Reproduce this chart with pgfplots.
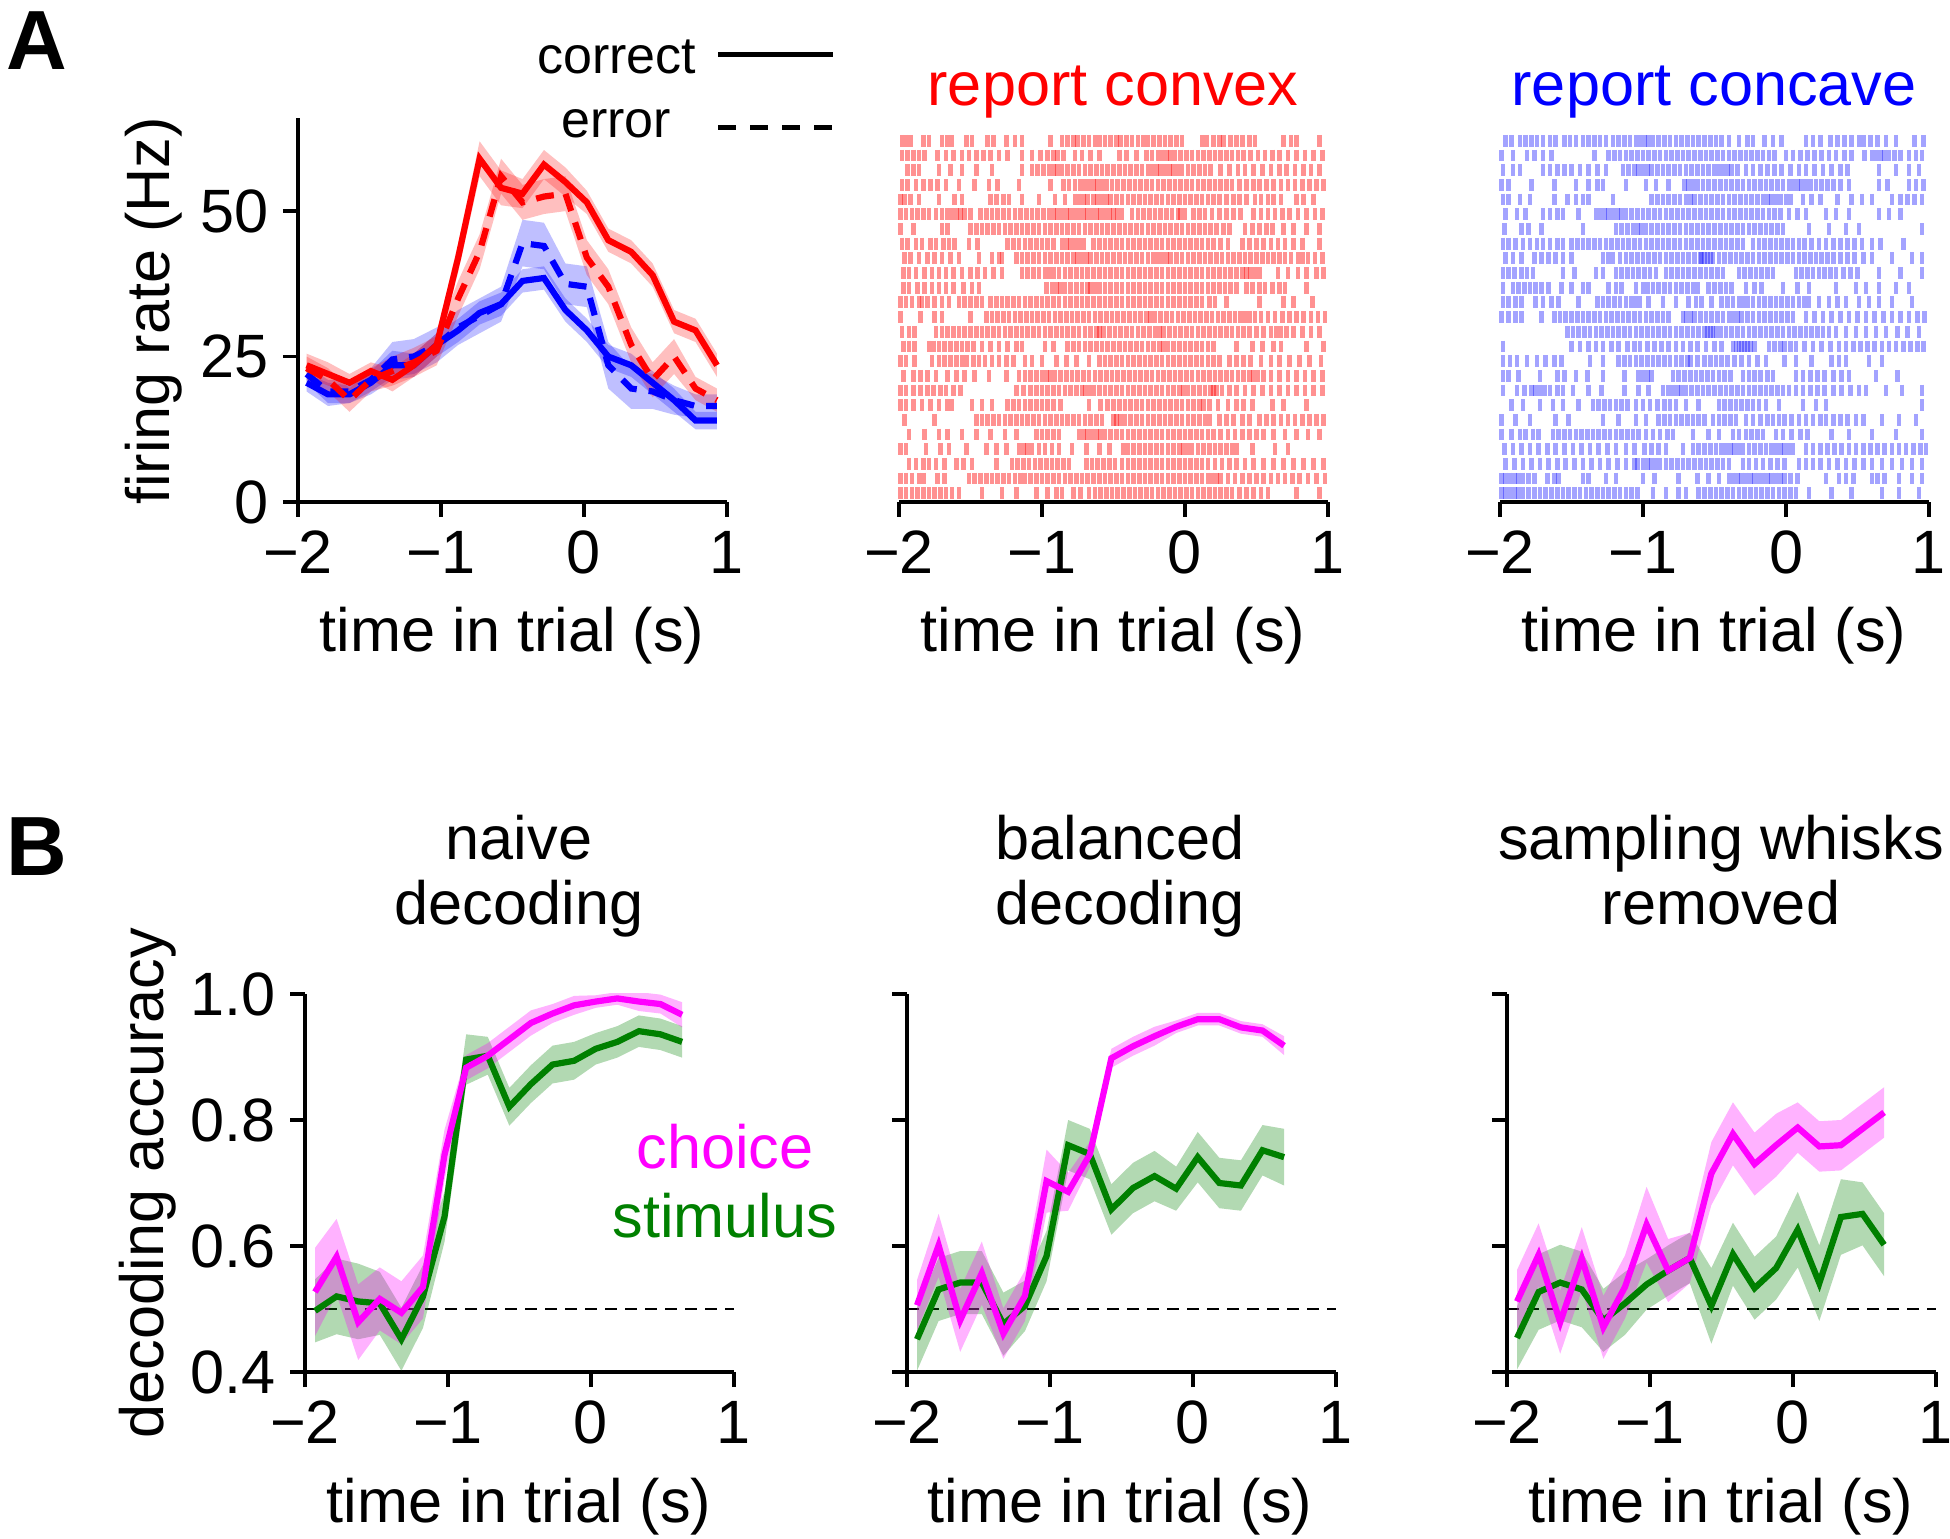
\documentclass[border=0pt]{standalone}
\usepackage{fontspec}
\setmainfont{Liberation Sans}
\usepackage{pgfplots}
\pgfplotsset{compat=1.18}
\usepackage{pgfplotstable}

\definecolor{cred}{RGB}{255,0,0}
\definecolor{cblue}{RGB}{0,0,255}
\definecolor{cmag}{RGB}{255,0,255}
\definecolor{cgreen}{RGB}{0,128,0}
\newcommand{\fs}{\fontsize{15.3pt}{16.5pt}\selectfont}

\pgfplotstableread{
x rc re bc be
-1.94 23.5 23 20.5 22
-1.79 22 21 18.5 19
-1.64 20.5 17.5 18.5 19
-1.49 22.5 21 20.5 21
-1.34 21 22.5 23.5 24.5
-1.19 23.5 24 23.5 25
-1.03 27 26 27 27
-0.88 42 35 29.5 30
-0.73 59 43 32.5 32
-0.58 54 56 34 34
-0.43 53 51.5 38 44.5
-0.28 58 52.5 38.5 44
-0.13 55 53 33 37.5
0.02 51.5 42 29.5 37
0.17 45 37 25 23.5
0.33 43 27 23.5 19.5
0.48 39 21 20.5 19
0.63 31 25 17.5 17.5
0.78 29.5 19.5 14 16.5
0.93 23.5 17.5 14 16.5
}\tA

\pgfplotstableread{
x ch st
-1.93 0.527 0.497
-1.779 0.583 0.52
-1.628 0.479 0.512
-1.477 0.516 0.509
-1.326 0.494 0.452
-1.175 0.535 0.52
-1.024 0.745 0.647
-0.873 0.883 0.896
-0.722 0.902 0.902
-0.571 0.928 0.821
-0.42 0.954 0.857
-0.269 0.969 0.888
-0.118 0.982 0.894
0.033 0.988 0.913
0.184 0.993 0.924
0.335 0.988 0.941
0.486 0.984 0.936
0.637 0.967 0.924
}\tBa

\pgfplotstableread{
x ch st
-1.93 0.506 0.452
-1.779 0.601 0.531
-1.628 0.482 0.542
-1.477 0.557 0.542
-1.326 0.461 0.476
-1.175 0.521 0.505
-1.024 0.703 0.584
-0.873 0.686 0.76
-0.722 0.745 0.746
-0.571 0.898 0.658
-0.42 0.917 0.692
-0.269 0.933 0.711
-0.118 0.948 0.691
0.033 0.96 0.741
0.184 0.96 0.70
0.335 0.947 0.696
0.486 0.942 0.752
0.637 0.918 0.741
}\tBb

\pgfplotstableread{
x ch st
-1.93 0.512 0.454
-1.779 0.586 0.527
-1.628 0.479 0.542
-1.477 0.580 0.531
-1.326 0.471 0.482
-1.175 0.535 0.509
-1.024 0.634 0.539
-0.873 0.561 0.561
-0.722 0.581 0.581
-0.571 0.715 0.505
-0.42 0.778 0.587
-0.269 0.730 0.533
-0.118 0.760 0.565
0.033 0.788 0.626
0.184 0.758 0.541
0.335 0.760 0.646
0.486 0.786 0.651
0.637 0.812 0.602
}\tBc

\pgfplotsset{
  base/.style={scale only axis, width=107.25pt, xmin=-2, xmax=1,
    xtick={-2,-1,0,1}, xticklabels={−2,−1,0,1},
    tick align=outside, major tick length=3.75pt,
    every tick/.style={black, line width=0.8pt},
    axis line style={line width=0.8pt},
    ticklabel style={font=\fs}, anchor=south west},
  dec/.style={base, height=94.5pt, ymin=0.4, ymax=1.0, ytick={0.4,0.6,0.8,1.0},
    axis x line*=bottom, axis y line*=left},
  ras/.style={base, height=91.75pt, ymin=0.4, ymax=25.4, ytick=\empty,
    axis x line*=bottom, axis y line=none, clip=false},
  spkR/.style={only marks, mark=|, mark size=1.47pt, color=cred,
    mark options={line width=1.15pt, opacity=0.43}},
  spkB/.style={only marks, mark=|, mark size=1.47pt, color=cblue,
    mark options={line width=1.15pt, opacity=0.36}},
  ln/.style={line width=1.55pt},
  dsh/.style={line width=1.55pt, dash pattern=on 4.5pt off 3pt},
  bandR/.style={fill=cred, fill opacity=0.25, draw=none},
  bandB/.style={fill=cblue, fill opacity=0.25, draw=none},
  bandM/.style={fill=cmag, fill opacity=0.3, draw=none},
  bandG/.style={fill=cgreen, fill opacity=0.3, draw=none},
  zline/.style={black, line width=0.5pt, dash pattern=on 3pt off 2pt},
}

\begin{document}
\begin{tikzpicture}
\useasboundingbox (0pt,0pt) rectangle (487.5pt,-384.75pt);

% ---------------- A1 firing rate
\begin{axis}[base, at={(74.5pt,-125.5pt)}, height=96pt, ymin=0, ymax=66,
  ytick={0,25,50}, yticklabels={0,25,50}, axis x line*=bottom, axis y line*=left]
\addplot[bandB] coordinates {(-1.94,22)(-1.79,20.5)(-1.64,20)(-1.49,22.5)(-1.34,26)(-1.19,25.5)(-1.03,29)(-0.88,31.5)(-0.73,34.5)(-0.58,36)(-0.43,40)(-0.28,40.5)(-0.13,35)(0.02,31.5)(0.17,27)(0.33,25.5)(0.48,22.5)(0.63,19.5)(0.78,15.5)(0.93,15.5)
 (0.93,12.5)(0.78,12.5)(0.63,15.5)(0.48,18.5)(0.33,21.5)(0.17,23)(0.02,27.5)(-0.13,31)(-0.28,36.5)(-0.43,36)(-0.58,32)(-0.73,30.5)(-0.88,27.5)(-1.03,25)(-1.19,21.5)(-1.34,21)(-1.49,18.5)(-1.64,17)(-1.79,16.5)(-1.94,19)} -- cycle;
\addplot[bandB] coordinates {(-1.94,23.5)(-1.79,21)(-1.64,21)(-1.49,23)(-1.34,27.5)(-1.19,28)(-1.03,30)(-0.88,33)(-0.73,35)(-0.58,37)(-0.43,48.5)(-0.28,48)(-0.13,41)(0.02,40.5)(0.17,27.5)(0.33,23)(0.48,22)(0.63,20)(0.78,18.5)(0.93,18.5)
 (0.93,14.5)(0.78,14.5)(0.63,15)(0.48,16)(0.33,16)(0.17,19.5)(0.02,33.5)(-0.13,34)(-0.28,40)(-0.43,40.5)(-0.58,31)(-0.73,29)(-0.88,27)(-1.03,24)(-1.19,22)(-1.34,21.5)(-1.49,19)(-1.64,17)(-1.79,17)(-1.94,20.5)} -- cycle;
\addplot[bandR] coordinates {(-1.94,25.5)(-1.79,24)(-1.64,22)(-1.49,24)(-1.34,23)(-1.19,25.5)(-1.03,29)(-0.88,44.5)(-0.73,62)(-0.58,57)(-0.43,55.5)(-0.28,60.5)(-0.13,57.5)(0.02,53.5)(0.17,47)(0.33,45)(0.48,41)(0.63,33)(0.78,31.5)(0.93,25.5)
 (0.93,21.5)(0.78,27.5)(0.63,29)(0.48,37)(0.33,41)(0.17,43)(0.02,49.5)(-0.13,52.5)(-0.28,55.5)(-0.43,50.5)(-0.58,51)(-0.73,56)(-0.88,39.5)(-1.03,25)(-1.19,21.5)(-1.34,19)(-1.49,21)(-1.64,19)(-1.79,20)(-1.94,21.5)} -- cycle;
\addplot[bandR] coordinates {(-1.94,25)(-1.79,23)(-1.64,19.5)(-1.49,23)(-1.34,25)(-1.19,26.5)(-1.03,28.5)(-0.88,38)(-0.73,46)(-0.58,59)(-0.43,54.5)(-0.28,55.5)(-0.13,56)(0.02,45)(0.17,40)(0.33,30)(0.48,24)(0.63,28)(0.78,21.5)(0.93,19.5)
 (0.93,15.5)(0.78,17.5)(0.63,22)(0.48,18)(0.33,24)(0.17,34)(0.02,39)(-0.13,50)(-0.28,49.5)(-0.43,48.5)(-0.58,53)(-0.73,40)(-0.88,32)(-1.03,23.5)(-1.19,21.5)(-1.34,20)(-1.49,19)(-1.64,15.5)(-1.79,19)(-1.94,21)} -- cycle;
\addplot[cblue, ln] table[x=x, y=bc]{\tA};
\addplot[cblue, dsh] table[x=x, y=be]{\tA};
\addplot[cred, ln] table[x=x, y=rc]{\tA};
\addplot[cred, dsh] table[x=x, y=re]{\tA};
\end{axis}

% ---------------- A2 raster convex
\begin{axis}[ras, at={(224.75pt,-125.5pt)}]
\addplot[spkR] table[x=t,y expr=25,row sep=\\]{t\\-1.98\\-1.95\\-1.92\\-1.83\\-1.79\\-1.7\\-1.66\\-1.63\\-1.53\\-1.49\\-1.38\\-1.34\\-1.25\\-1.19\\-1.14\\-0.94\\-0.86\\-0.82\\-0.78\\-0.75\\-0.71\\-0.67\\-0.63\\-0.6\\-0.56\\-0.52\\-0.48\\-0.45\\-0.41\\-0.37\\-0.33\\-0.29\\-0.26\\-0.22\\-0.18\\-0.14\\-0.1\\-0.06\\-0.02\\0.12\\0.15\\0.2\\0.24\\0.27\\0.32\\0.36\\0.4\\0.45\\0.49\\0.69\\0.74\\0.78\\0.94\\};
\addplot[spkR] table[x=t,y expr=24,row sep=\\]{t\\-1.98\\-1.94\\-1.9\\-1.86\\-1.82\\-1.73\\-1.67\\-1.62\\-1.56\\-1.51\\-1.46\\-1.41\\-1.36\\-1.3\\-1.24\\-1.14\\-1.07\\-1.01\\-0.96\\-0.92\\-0.89\\-0.85\\-0.77\\-0.72\\-0.66\\-0.6\\-0.46\\-0.41\\-0.34\\-0.27\\-0.23\\-0.19\\-0.16\\-0.13\\-0.1\\-0.07\\-0.03\\0.01\\0.05\\0.09\\0.13\\0.17\\0.21\\0.25\\0.29\\0.33\\0.37\\0.41\\0.46\\0.51\\0.56\\0.61\\0.66\\0.72\\0.78\\0.84\\0.9\\0.96\\};
\addplot[spkR] table[x=t,y expr=23,row sep=\\]{t\\-1.94\\-1.9\\-1.86\\-1.72\\-1.64\\-1.56\\-1.46\\-1.35\\-1.14\\-1.07\\-1.03\\-0.99\\-0.95\\-0.92\\-0.89\\-0.86\\-0.82\\-0.78\\-0.74\\-0.7\\-0.66\\-0.62\\-0.58\\-0.54\\-0.5\\-0.46\\-0.42\\-0.38\\-0.34\\-0.3\\-0.26\\-0.23\\-0.2\\-0.17\\-0.14\\-0.11\\-0.08\\-0.05\\-0.02\\0.02\\0.06\\0.1\\0.14\\0.18\\0.25\\0.31\\0.37\\0.42\\0.48\\0.54\\0.6\\0.66\\0.71\\0.77\\0.83\\0.88\\0.94\\};
\addplot[spkR] table[x=t,y expr=22,row sep=\\]{t\\-1.98\\-1.94\\-1.88\\-1.83\\-1.78\\-1.73\\-1.67\\-1.58\\-1.47\\-1.37\\-1.31\\-1.16\\-0.94\\-0.85\\-0.81\\-0.77\\-0.73\\-0.7\\-0.67\\-0.64\\-0.61\\-0.58\\-0.55\\-0.51\\-0.47\\-0.43\\-0.39\\-0.35\\-0.31\\-0.27\\-0.23\\-0.19\\-0.15\\-0.11\\-0.07\\-0.03\\0.01\\0.05\\0.09\\0.13\\0.17\\0.21\\0.25\\0.29\\0.33\\0.38\\0.43\\0.48\\0.52\\0.57\\0.62\\0.67\\0.72\\0.77\\0.82\\0.87\\0.92\\0.97\\};
\addplot[spkR] table[x=t,y expr=21,row sep=\\]{t\\-1.99\\-1.96\\-1.92\\-1.86\\-1.72\\-1.61\\-1.56\\-1.36\\-1.32\\-1.27\\-1.23\\-1.14\\-1.02\\-0.91\\-0.84\\-0.77\\-0.74\\-0.71\\-0.68\\-0.64\\-0.61\\-0.58\\-0.55\\-0.52\\-0.48\\-0.44\\-0.4\\-0.36\\-0.32\\-0.28\\-0.24\\-0.2\\-0.16\\-0.12\\-0.08\\-0.04\\0.0\\0.04\\0.08\\0.12\\0.16\\0.2\\0.24\\0.29\\0.34\\0.38\\0.43\\0.49\\0.53\\0.58\\0.62\\0.67\\0.78\\0.83\\0.9\\};
\addplot[spkR] table[x=t,y expr=20,row sep=\\]{t\\-1.99\\-1.95\\-1.91\\-1.87\\-1.83\\-1.79\\-1.74\\-1.7\\-1.66\\-1.63\\-1.6\\-1.57\\-1.54\\-1.5\\-1.43\\-1.39\\-1.35\\-1.31\\-1.27\\-1.23\\-1.19\\-1.15\\-1.11\\-1.07\\-1.03\\-0.99\\-0.95\\-0.92\\-0.89\\-0.86\\-0.83\\-0.8\\-0.77\\-0.74\\-0.71\\-0.68\\-0.65\\-0.62\\-0.59\\-0.56\\-0.53\\-0.5\\-0.47\\-0.44\\-0.37\\-0.33\\-0.29\\-0.25\\-0.21\\-0.17\\-0.13\\-0.09\\-0.05\\-0.03\\0.0\\0.06\\0.1\\0.14\\0.19\\0.24\\0.29\\0.34\\0.39\\0.48\\0.53\\0.58\\0.63\\0.68\\0.73\\0.79\\0.85\\0.91\\0.96\\};
\addplot[spkR] table[x=t,y expr=19,row sep=\\]{t\\-1.99\\-1.9\\-1.7\\-1.66\\-1.5\\-1.46\\-1.42\\-1.38\\-1.34\\-1.3\\-1.26\\-1.22\\-1.18\\-1.14\\-1.1\\-1.06\\-1.02\\-0.98\\-0.94\\-0.9\\-0.86\\-0.82\\-0.78\\-0.74\\-0.7\\-0.66\\-0.62\\-0.58\\-0.54\\-0.5\\-0.46\\-0.42\\-0.38\\-0.34\\-0.3\\-0.26\\-0.22\\-0.18\\-0.14\\-0.1\\-0.06\\-0.02\\0.02\\0.06\\0.1\\0.14\\0.18\\0.22\\0.27\\0.31\\0.42\\0.47\\0.52\\0.57\\0.61\\0.69\\0.76\\0.85\\0.94\\};
\addplot[spkR] table[x=t,y expr=18,row sep=\\]{t\\-1.98\\-1.94\\-1.88\\-1.84\\-1.78\\-1.74\\-1.69\\-1.65\\-1.61\\-1.51\\-1.45\\-1.24\\-1.2\\-1.16\\-1.12\\-1.08\\-1.04\\-1.0\\-0.96\\-0.92\\-0.86\\-0.83\\-0.8\\-0.77\\-0.74\\-0.71\\-0.64\\-0.6\\-0.56\\-0.52\\-0.48\\-0.44\\-0.4\\-0.36\\-0.32\\-0.28\\-0.24\\-0.2\\-0.16\\-0.12\\-0.08\\-0.04\\0.0\\0.04\\0.08\\0.12\\0.16\\0.2\\0.25\\0.3\\0.4\\0.45\\0.5\\0.55\\0.6\\0.65\\0.7\\0.76\\0.82\\0.94\\};
\addplot[spkR] table[x=t,y expr=17,row sep=\\]{t\\-1.96\\-1.92\\-1.86\\-1.8\\-1.75\\-1.7\\-1.64\\-1.58\\-1.44\\-1.35\\-1.3\\-1.28\\-1.18\\-1.14\\-1.1\\-1.06\\-1.02\\-0.98\\-0.94\\-0.9\\-0.86\\-0.82\\-0.78\\-0.75\\-0.72\\-0.69\\-0.66\\-0.62\\-0.58\\-0.54\\-0.5\\-0.46\\-0.42\\-0.38\\-0.34\\-0.3\\-0.26\\-0.22\\-0.19\\-0.16\\-0.13\\-0.1\\-0.06\\-0.02\\0.02\\0.06\\0.1\\0.14\\0.18\\0.22\\0.26\\0.3\\0.34\\0.38\\0.42\\0.46\\0.5\\0.54\\0.58\\0.62\\0.66\\0.7\\0.74\\0.79\\0.82\\0.86\\0.91\\0.96\\};
\addplot[spkR] table[x=t,y expr=16,row sep=\\]{t\\-1.97\\-1.93\\-1.88\\-1.82\\-1.77\\-1.72\\-1.67\\-1.62\\-1.56\\-1.5\\-1.45\\-1.4\\-1.34\\-1.28\\-1.14\\-1.1\\-1.06\\-1.02\\-0.98\\-0.95\\-0.92\\-0.88\\-0.84\\-0.8\\-0.76\\-0.72\\-0.68\\-0.64\\-0.6\\-0.56\\-0.52\\-0.48\\-0.44\\-0.4\\-0.36\\-0.32\\-0.28\\-0.24\\-0.2\\-0.16\\-0.12\\-0.08\\-0.04\\0.0\\0.04\\0.08\\0.12\\0.16\\0.2\\0.24\\0.28\\0.32\\0.36\\0.4\\0.43\\0.46\\0.49\\0.52\\0.65\\0.72\\0.79\\0.85\\0.92\\0.97\\};
\addplot[spkR] table[x=t,y expr=15,row sep=\\]{t\\-1.97\\-1.93\\-1.87\\-1.82\\-1.77\\-1.72\\-1.67\\-1.62\\-1.55\\-1.49\\-1.44\\-0.97\\-0.93\\-0.9\\-0.87\\-0.84\\-0.8\\-0.76\\-0.72\\-0.68\\-0.66\\-0.63\\-0.6\\-0.56\\-0.52\\-0.48\\-0.44\\-0.4\\-0.36\\-0.32\\-0.28\\-0.24\\-0.2\\-0.16\\-0.12\\-0.08\\-0.04\\0.0\\0.04\\0.08\\0.12\\0.16\\0.2\\0.24\\0.28\\0.32\\0.36\\0.43\\0.47\\0.52\\0.56\\0.61\\0.66\\0.7\\0.85\\};
\addplot[spkR] table[x=t,y expr=14,row sep=\\]{t\\-1.99\\-1.95\\-1.91\\-1.86\\-1.84\\-1.8\\-1.75\\-1.7\\-1.65\\-1.58\\-1.54\\-1.5\\-1.46\\-1.42\\-1.36\\-1.32\\-1.28\\-1.24\\-1.2\\-1.16\\-1.12\\-1.08\\-1.04\\-1.0\\-0.96\\-0.92\\-0.88\\-0.84\\-0.8\\-0.76\\-0.72\\-0.68\\-0.64\\-0.6\\-0.56\\-0.52\\-0.48\\-0.44\\-0.4\\-0.36\\-0.32\\-0.28\\-0.24\\-0.2\\-0.16\\-0.12\\-0.08\\-0.04\\0.0\\0.04\\0.08\\0.12\\0.17\\0.21\\0.29\\0.52\\0.69\\0.76\\0.89\\};
\addplot[spkR] table[x=t,y expr=13,row sep=\\]{t\\-1.99\\-1.85\\-1.75\\-1.7\\-1.5\\-1.39\\-1.35\\-1.31\\-1.27\\-1.23\\-1.19\\-1.15\\-1.11\\-1.07\\-1.03\\-0.99\\-0.95\\-0.91\\-0.87\\-0.83\\-0.79\\-0.75\\-0.71\\-0.67\\-0.63\\-0.59\\-0.55\\-0.51\\-0.47\\-0.43\\-0.39\\-0.35\\-0.31\\-0.27\\-0.24\\-0.21\\-0.17\\-0.13\\-0.09\\-0.05\\-0.01\\0.03\\0.07\\0.11\\0.15\\0.19\\0.23\\0.27\\0.31\\0.35\\0.39\\0.42\\0.45\\0.49\\0.53\\0.58\\0.63\\0.68\\0.73\\0.78\\0.83\\0.88\\0.93\\0.98\\};
\addplot[spkR] table[x=t,y expr=12,row sep=\\]{t\\-1.98\\-1.93\\-1.89\\-1.74\\-1.7\\-1.66\\-1.62\\-1.58\\-1.54\\-1.5\\-1.46\\-1.42\\-1.38\\-1.34\\-1.3\\-1.26\\-1.22\\-1.18\\-1.14\\-1.1\\-1.06\\-1.02\\-0.98\\-0.94\\-0.9\\-0.86\\-0.82\\-0.78\\-0.74\\-0.7\\-0.66\\-0.62\\-0.6\\-0.57\\-0.53\\-0.49\\-0.45\\-0.41\\-0.37\\-0.33\\-0.29\\-0.25\\-0.21\\-0.18\\-0.15\\-0.11\\-0.07\\-0.03\\0.01\\0.05\\0.09\\0.13\\0.17\\0.21\\0.25\\0.29\\0.33\\0.37\\0.41\\0.45\\0.5\\0.55\\0.6\\0.64\\0.67\\0.71\\0.76\\0.82\\0.88\\0.94\\};
\addplot[spkR] table[x=t,y expr=11,row sep=\\]{t\\-1.97\\-1.93\\-1.89\\-1.79\\-1.76\\-1.72\\-1.68\\-1.64\\-1.6\\-1.56\\-1.52\\-1.48\\-1.42\\-1.36\\-1.3\\-1.24\\-1.18\\-1.14\\-0.98\\-0.92\\-0.82\\-0.78\\-0.74\\-0.7\\-0.66\\-0.62\\-0.58\\-0.54\\-0.5\\-0.46\\-0.42\\-0.38\\-0.34\\-0.3\\-0.26\\-0.22\\-0.18\\-0.15\\-0.12\\-0.08\\-0.04\\0.0\\0.04\\0.08\\0.12\\0.16\\0.2\\0.36\\0.47\\0.54\\0.62\\0.67\\0.85\\0.97\\};
\addplot[spkR] table[x=t,y expr=10,row sep=\\]{t\\-1.99\\-1.95\\-1.89\\-1.77\\-1.72\\-1.68\\-1.64\\-1.6\\-1.56\\-1.53\\-1.48\\-1.44\\-1.4\\-1.35\\-1.3\\-1.25\\-1.2\\-1.12\\-1.07\\-1.0\\-0.9\\-0.83\\-0.76\\-0.67\\-0.6\\-0.56\\-0.52\\-0.48\\-0.44\\-0.4\\-0.36\\-0.32\\-0.28\\-0.24\\-0.2\\-0.16\\-0.12\\-0.08\\-0.04\\0.0\\0.04\\0.08\\0.12\\0.16\\0.2\\0.24\\0.31\\0.36\\0.41\\0.46\\0.53\\0.6\\0.66\\0.73\\0.8\\0.87\\0.95\\};
\addplot[spkR] table[x=t,y expr=9,row sep=\\]{t\\-1.97\\-1.9\\-1.85\\-1.8\\-1.74\\-1.66\\-1.6\\-1.54\\-1.47\\-1.37\\-1.25\\-1.16\\-1.12\\-1.08\\-1.04\\-1.0\\-0.97\\-0.94\\-0.91\\-0.87\\-0.83\\-0.79\\-0.75\\-0.71\\-0.67\\-0.63\\-0.59\\-0.55\\-0.51\\-0.47\\-0.43\\-0.39\\-0.35\\-0.31\\-0.27\\-0.23\\-0.19\\-0.15\\-0.11\\-0.07\\-0.03\\0.01\\0.05\\0.09\\0.13\\0.17\\0.21\\0.25\\0.29\\0.33\\0.37\\0.41\\0.45\\0.48\\0.51\\0.55\\0.6\\0.66\\0.72\\0.78\\0.84\\0.9\\0.96\\};
\addplot[spkR] table[x=t,y expr=8,row sep=\\]{t\\-1.99\\-1.95\\-1.9\\-1.85\\-1.8\\-1.76\\-1.71\\-1.67\\-1.62\\-1.57\\-1.18\\-1.13\\-1.08\\-1.04\\-1.0\\-0.96\\-0.92\\-0.88\\-0.84\\-0.8\\-0.76\\-0.72\\-0.7\\-0.67\\-0.64\\-0.6\\-0.56\\-0.52\\-0.48\\-0.44\\-0.4\\-0.36\\-0.32\\-0.28\\-0.24\\-0.2\\-0.16\\-0.12\\-0.08\\-0.04\\-0.01\\0.02\\0.06\\0.1\\0.14\\0.18\\0.2\\0.22\\0.26\\0.31\\0.36\\0.42\\0.48\\0.54\\0.6\\0.66\\0.72\\0.78\\0.84\\0.9\\0.96\\};
\addplot[spkR] table[x=t,y expr=7,row sep=\\]{t\\-1.99\\-1.95\\-1.9\\-1.84\\-1.78\\-1.72\\-1.66\\-1.63\\-1.49\\-1.42\\-1.35\\-1.24\\-1.2\\-1.16\\-1.12\\-1.08\\-1.04\\-1.0\\-0.96\\-0.92\\-0.87\\-0.67\\-0.59\\-0.54\\-0.5\\-0.46\\-0.42\\-0.38\\-0.34\\-0.3\\-0.26\\-0.22\\-0.18\\-0.14\\-0.1\\-0.06\\-0.02\\0.02\\0.06\\0.1\\0.13\\0.17\\0.23\\0.3\\0.36\\0.41\\0.47\\0.61\\0.69\\0.85\\};
\addplot[spkR] table[x=t,y expr=6,row sep=\\]{t\\-1.96\\-1.75\\-1.46\\-1.42\\-1.38\\-1.34\\-1.3\\-1.26\\-1.22\\-1.18\\-1.14\\-1.1\\-1.06\\-1.02\\-0.98\\-0.94\\-0.9\\-0.86\\-0.82\\-0.78\\-0.74\\-0.7\\-0.66\\-0.62\\-0.58\\-0.5\\-0.48\\-0.45\\-0.42\\-0.38\\-0.34\\-0.3\\-0.26\\-0.22\\-0.18\\-0.14\\-0.1\\-0.06\\-0.02\\0.02\\0.06\\0.1\\0.14\\0.17\\0.24\\0.29\\0.34\\0.4\\0.45\\0.52\\0.57\\0.62\\0.67\\0.72\\0.77\\0.82\\0.87\\0.92\\0.97\\};
\addplot[spkR] table[x=t,y expr=5,row sep=\\]{t\\-1.93\\-1.82\\-1.72\\-1.66\\-1.56\\-1.46\\-1.36\\-1.26\\-1.18\\-1.04\\-1.0\\-0.96\\-0.92\\-0.88\\-0.74\\-0.71\\-0.68\\-0.65\\-0.62\\-0.59\\-0.56\\-0.52\\-0.48\\-0.44\\-0.4\\-0.36\\-0.32\\-0.28\\-0.24\\-0.2\\-0.16\\-0.12\\-0.08\\-0.04\\0.0\\0.04\\0.08\\0.12\\0.16\\0.2\\0.25\\0.3\\0.35\\0.4\\0.45\\0.5\\0.55\\0.62\\0.7\\0.78\\0.86\\0.94\\};
\addplot[spkR] table[x=t,y expr=4,row sep=\\]{t\\-1.99\\-1.95\\-1.81\\-1.71\\-1.65\\-1.53\\-1.39\\-1.32\\-1.25\\-1.16\\-1.13\\-1.1\\-1.07\\-1.02\\-0.98\\-0.93\\-0.88\\-0.79\\-0.69\\-0.6\\-0.53\\-0.43\\-0.4\\-0.36\\-0.32\\-0.28\\-0.24\\-0.2\\-0.16\\-0.12\\-0.08\\-0.04\\-0.01\\0.02\\0.05\\0.09\\0.13\\0.17\\0.21\\0.25\\0.29\\0.33\\0.36\\0.47\\0.63\\0.72\\};
\addplot[spkR] table[x=t,y expr=3,row sep=\\]{t\\-1.93\\-1.88\\-1.83\\-1.79\\-1.74\\-1.68\\-1.6\\-1.55\\-1.49\\-1.32\\-1.21\\-1.17\\-1.13\\-1.09\\-1.05\\-1.01\\-0.97\\-0.93\\-0.89\\-0.85\\-0.81\\-0.69\\-0.65\\-0.61\\-0.57\\-0.53\\-0.49\\-0.44\\-0.4\\-0.36\\-0.32\\-0.28\\-0.24\\-0.2\\-0.16\\-0.12\\-0.08\\-0.04\\0.0\\0.04\\0.08\\0.12\\0.16\\0.21\\0.26\\0.31\\0.36\\0.42\\0.48\\0.55\\0.62\\0.69\\0.76\\0.83\\0.9\\0.97\\};
\addplot[spkR] table[x=t,y expr=2,row sep=\\]{t\\-1.99\\-1.95\\-1.91\\-1.86\\-1.83\\-1.73\\-1.68\\-1.51\\-1.47\\-1.43\\-1.39\\-1.35\\-1.31\\-1.27\\-1.23\\-1.19\\-1.15\\-1.12\\-1.08\\-1.04\\-1.0\\-0.96\\-0.92\\-0.88\\-0.84\\-0.8\\-0.76\\-0.72\\-0.68\\-0.64\\-0.6\\-0.56\\-0.52\\-0.48\\-0.44\\-0.4\\-0.36\\-0.32\\-0.28\\-0.24\\-0.2\\-0.16\\-0.12\\-0.08\\-0.04\\0.0\\0.04\\0.08\\0.12\\0.16\\0.19\\0.22\\0.25\\0.3\\0.35\\0.4\\0.45\\0.5\\0.55\\0.6\\0.65\\0.7\\0.75\\0.8\\0.86\\0.92\\0.98\\};
\addplot[spkR] table[x=t,y expr=1,row sep=\\]{t\\-1.99\\-1.95\\-1.91\\-1.87\\-1.83\\-1.79\\-1.75\\-1.71\\-1.67\\-1.63\\-1.58\\-1.42\\-1.28\\-1.18\\-1.04\\-0.96\\-0.9\\-0.86\\-0.78\\-0.73\\-0.67\\-0.63\\-0.59\\-0.55\\-0.51\\-0.47\\-0.43\\-0.39\\-0.35\\-0.31\\-0.27\\-0.23\\-0.19\\-0.15\\-0.11\\-0.07\\-0.03\\0.01\\0.05\\0.09\\0.13\\0.17\\0.21\\0.25\\0.29\\0.33\\0.38\\0.43\\0.48\\0.53\\0.58\\0.78\\0.94\\};
\end{axis}

% ---------------- A3 raster concave
\begin{axis}[ras, at={(375pt,-125.5pt)}]
\addplot[spkB] table[x=t,y expr=25,row sep=\\]{t\\-1.96\\-1.92\\-1.86\\-1.82\\-1.78\\-1.74\\-1.7\\-1.65\\-1.61\\-1.55\\-1.51\\-1.47\\-1.42\\-1.38\\-1.34\\-1.3\\-1.26\\-1.21\\-1.17\\-1.13\\-1.09\\-1.05\\-1.02\\-0.99\\-0.96\\-0.93\\-0.89\\-0.85\\-0.81\\-0.77\\-0.73\\-0.69\\-0.65\\-0.61\\-0.57\\-0.53\\-0.49\\-0.45\\-0.4\\-0.33\\-0.27\\-0.23\\-0.15\\-0.09\\-0.03\\0.14\\0.19\\0.24\\0.31\\0.36\\0.41\\0.46\\0.51\\0.54\\0.59\\0.64\\0.7\\0.77\\0.9\\0.96\\};
\addplot[spkB] table[x=t,y expr=24,row sep=\\]{t\\-1.99\\-1.91\\-1.81\\-1.76\\-1.7\\-1.64\\-1.34\\-1.24\\-1.2\\-1.16\\-1.12\\-1.08\\-1.04\\-1.0\\-0.96\\-0.92\\-0.88\\-0.84\\-0.8\\-0.76\\-0.72\\-0.68\\-0.64\\-0.6\\-0.56\\-0.52\\-0.48\\-0.44\\-0.4\\-0.36\\-0.32\\-0.28\\-0.24\\-0.2\\-0.16\\-0.12\\-0.08\\0.0\\0.05\\0.1\\0.15\\0.2\\0.25\\0.3\\0.35\\0.41\\0.46\\0.55\\0.6\\0.63\\0.66\\0.69\\0.72\\0.76\\0.8\\0.86\\0.91\\0.95\\};
\addplot[spkB] table[x=t,y expr=23,row sep=\\]{t\\-1.98\\-1.91\\-1.86\\-1.7\\-1.65\\-1.6\\-1.55\\-1.5\\-1.44\\-1.38\\-1.32\\-1.26\\-1.14\\-1.1\\-1.06\\-1.03\\-1.0\\-0.97\\-0.94\\-0.9\\-0.86\\-0.82\\-0.78\\-0.74\\-0.7\\-0.66\\-0.62\\-0.58\\-0.54\\-0.5\\-0.47\\-0.44\\-0.41\\-0.38\\-0.34\\-0.28\\-0.23\\-0.18\\-0.13\\-0.08\\-0.03\\0.03\\0.09\\0.14\\0.2\\0.26\\0.32\\0.38\\0.43\\0.65\\0.77\\0.86\\0.93\\};
\addplot[spkB] table[x=t,y expr=22,row sep=\\]{t\\-1.99\\-1.94\\-1.78\\-1.62\\-1.47\\-1.38\\-1.32\\-1.28\\-1.12\\-0.98\\-0.91\\-0.82\\-0.71\\-0.68\\-0.65\\-0.62\\-0.58\\-0.54\\-0.5\\-0.46\\-0.42\\-0.38\\-0.34\\-0.3\\-0.26\\-0.22\\-0.18\\-0.14\\-0.1\\-0.06\\-0.02\\0.02\\0.05\\0.08\\0.11\\0.14\\0.17\\0.21\\0.25\\0.29\\0.33\\0.38\\0.44\\0.65\\0.71\\0.86\\0.91\\0.96\\};
\addplot[spkB] table[x=t,y expr=21,row sep=\\]{t\\-1.98\\-1.94\\-1.86\\-1.79\\-1.62\\-1.53\\-1.47\\-1.42\\-1.38\\-1.21\\-0.94\\-0.9\\-0.86\\-0.82\\-0.78\\-0.74\\-0.7\\-0.67\\-0.64\\-0.6\\-0.56\\-0.52\\-0.48\\-0.44\\-0.4\\-0.36\\-0.32\\-0.28\\-0.24\\-0.2\\-0.16\\-0.13\\-0.1\\-0.07\\-0.04\\0.0\\0.03\\0.12\\0.18\\0.24\\0.36\\0.46\\0.53\\0.6\\0.74\\0.8\\0.85\\0.9\\0.95\\};
\addplot[spkB] table[x=t,y expr=20,row sep=\\]{t\\-1.96\\-1.88\\-1.82\\-1.7\\-1.65\\-1.6\\-1.56\\-1.45\\-1.33\\-1.3\\-1.27\\-1.24\\-1.21\\-1.18\\-1.15\\-1.12\\-1.08\\-1.04\\-1.0\\-0.96\\-0.92\\-0.88\\-0.84\\-0.8\\-0.76\\-0.72\\-0.68\\-0.64\\-0.6\\-0.56\\-0.52\\-0.48\\-0.44\\-0.4\\-0.36\\-0.32\\-0.28\\-0.24\\-0.2\\-0.16\\-0.12\\-0.08\\-0.04\\0.02\\0.08\\0.14\\0.28\\0.35\\0.44\\0.65\\0.72\\0.8\\};
\addplot[spkB] table[x=t,y expr=19,row sep=\\]{t\\-1.97\\-1.85\\-1.8\\-1.71\\-1.42\\-1.19\\-1.15\\-1.11\\-1.07\\-1.04\\-1.01\\-0.98\\-0.94\\-0.9\\-0.86\\-0.82\\-0.78\\-0.74\\-0.7\\-0.66\\-0.62\\-0.58\\-0.54\\-0.5\\-0.46\\-0.42\\-0.38\\-0.34\\-0.3\\-0.26\\-0.22\\-0.18\\-0.14\\-0.1\\-0.06\\-0.02\\0.16\\0.3\\0.42\\0.51\\0.95\\};
\addplot[spkB] table[x=t,y expr=18,row sep=\\]{t\\-1.98\\-1.94\\-1.89\\-1.84\\-1.79\\-1.74\\-1.7\\-1.65\\-1.6\\-1.56\\-1.5\\-1.46\\-1.42\\-1.38\\-1.34\\-1.3\\-1.26\\-1.22\\-1.18\\-1.14\\-1.1\\-1.06\\-1.02\\-0.98\\-0.94\\-0.9\\-0.86\\-0.82\\-0.78\\-0.74\\-0.7\\-0.66\\-0.62\\-0.58\\-0.54\\-0.5\\-0.46\\-0.42\\-0.38\\-0.34\\-0.3\\-0.23\\-0.19\\-0.15\\-0.11\\-0.07\\-0.03\\0.01\\0.05\\0.09\\0.13\\0.18\\0.23\\0.28\\0.33\\0.38\\0.43\\0.48\\0.53\\0.6\\0.66\\0.82\\};
\addplot[spkB] table[x=t,y expr=17,row sep=\\]{t\\-1.96\\-1.91\\-1.85\\-1.76\\-1.71\\-1.66\\-1.61\\-1.56\\-1.5\\-1.28\\-1.24\\-1.21\\-1.16\\-1.12\\-1.08\\-1.04\\-1.0\\-0.96\\-0.92\\-0.88\\-0.84\\-0.8\\-0.76\\-0.72\\-0.68\\-0.64\\-0.6\\-0.59\\-0.57\\-0.55\\-0.53\\-0.51\\-0.47\\-0.43\\-0.39\\-0.35\\-0.31\\-0.27\\-0.23\\-0.19\\-0.15\\-0.11\\-0.07\\-0.03\\0.01\\0.05\\0.09\\0.13\\0.17\\0.21\\0.25\\0.29\\0.33\\0.38\\0.43\\0.48\\0.54\\0.6\\0.74\\0.88\\0.95\\};
\addplot[spkB] table[x=t,y expr=16,row sep=\\]{t\\-1.98\\-1.94\\-1.9\\-1.85\\-1.81\\-1.77\\-1.56\\-1.48\\-1.33\\-1.28\\-1.19\\-1.15\\-1.11\\-1.07\\-1.03\\-0.99\\-0.95\\-0.91\\-0.84\\-0.8\\-0.76\\-0.72\\-0.68\\-0.64\\-0.6\\-0.56\\-0.52\\-0.48\\-0.44\\-0.33\\-0.29\\-0.25\\-0.21\\-0.17\\-0.13\\-0.09\\0.07\\0.11\\0.15\\0.19\\0.23\\0.27\\0.31\\0.35\\0.4\\0.45\\0.5\\0.65\\0.8\\0.95\\};
\addplot[spkB] table[x=t,y expr=15,row sep=\\]{t\\-1.98\\-1.91\\-1.87\\-1.83\\-1.79\\-1.75\\-1.71\\-1.66\\-1.57\\-1.5\\-1.42\\-1.38\\-1.24\\-1.19\\-1.15\\-1.05\\-1.0\\-0.97\\-0.93\\-0.89\\-0.85\\-0.81\\-0.77\\-0.73\\-0.69\\-0.65\\-0.62\\-0.54\\-0.5\\-0.46\\-0.42\\-0.38\\-0.28\\-0.22\\-0.17\\-0.02\\0.08\\0.16\\0.35\\0.49\\0.56\\0.65\\0.77\\0.86\\};
\addplot[spkB] table[x=t,y expr=14,row sep=\\]{t\\-1.98\\-1.94\\-1.89\\-1.85\\-1.75\\-1.7\\-1.64\\-1.59\\-1.45\\-1.32\\-1.28\\-1.24\\-1.2\\-1.16\\-1.12\\-1.08\\-1.05\\-1.02\\-0.96\\-0.86\\-0.77\\-0.68\\-0.63\\-0.59\\-0.52\\-0.45\\-0.41\\-0.37\\-0.33\\-0.3\\-0.27\\-0.23\\-0.19\\-0.15\\-0.11\\-0.07\\-0.03\\0.01\\0.05\\0.09\\0.13\\0.16\\0.23\\0.3\\0.36\\0.42\\0.51\\0.58\\0.65\\0.74\\0.88\\};
\addplot[spkB] table[x=t,y expr=13,row sep=\\]{t\\-1.99\\-1.94\\-1.89\\-1.85\\-1.71\\-1.62\\-1.58\\-1.54\\-1.5\\-1.46\\-1.42\\-1.38\\-1.34\\-1.3\\-1.26\\-1.22\\-1.18\\-1.14\\-1.1\\-1.06\\-1.02\\-0.98\\-0.94\\-0.9\\-0.86\\-0.82\\-0.72\\-0.7\\-0.67\\-0.64\\-0.6\\-0.56\\-0.52\\-0.48\\-0.44\\-0.4\\-0.37\\-0.34\\-0.31\\-0.27\\-0.23\\-0.19\\-0.15\\-0.11\\-0.07\\-0.03\\0.01\\0.05\\0.14\\0.2\\0.26\\0.32\\0.38\\0.44\\0.5\\0.56\\0.62\\0.68\\0.74\\0.8\\0.86\\0.92\\0.97\\};
\addplot[spkB] table[x=t,y expr=12,row sep=\\]{t\\-1.53\\-1.49\\-1.45\\-1.41\\-1.37\\-1.33\\-1.29\\-1.25\\-1.21\\-1.17\\-1.13\\-1.09\\-1.05\\-1.01\\-0.97\\-0.93\\-0.89\\-0.85\\-0.81\\-0.77\\-0.73\\-0.69\\-0.65\\-0.61\\-0.57\\-0.55\\-0.53\\-0.51\\-0.49\\-0.46\\-0.42\\-0.38\\-0.34\\-0.3\\-0.26\\-0.22\\-0.18\\-0.14\\-0.1\\-0.06\\-0.02\\0.02\\0.06\\0.1\\0.14\\0.18\\0.22\\0.26\\0.3\\0.35\\0.42\\0.49\\0.56\\0.63\\0.7\\0.78\\0.85\\0.93\\};
\addplot[spkB] table[x=t,y expr=11,row sep=\\]{t\\-1.98\\-1.5\\-1.44\\-1.38\\-1.33\\-1.28\\-1.22\\-1.17\\-1.11\\-1.06\\-1.02\\-0.97\\-0.92\\-0.87\\-0.82\\-0.77\\-0.72\\-0.67\\-0.62\\-0.56\\-0.5\\-0.45\\-0.37\\-0.35\\-0.33\\-0.31\\-0.29\\-0.27\\-0.25\\-0.22\\-0.12\\-0.08\\-0.04\\-0.01\\0.03\\0.07\\0.13\\0.19\\0.25\\0.31\\0.37\\0.42\\0.47\\0.52\\0.57\\0.62\\0.67\\0.72\\0.77\\0.82\\0.87\\0.92\\0.96\\};
\addplot[spkB] table[x=t,y expr=10,row sep=\\]{t\\-1.98\\-1.93\\-1.88\\-1.81\\-1.74\\-1.68\\-1.62\\-1.57\\-1.37\\-1.28\\-1.17\\-1.13\\-1.09\\-1.05\\-1.01\\-0.97\\-0.93\\-0.89\\-0.85\\-0.81\\-0.77\\-0.73\\-0.69\\-0.67\\-0.62\\-0.57\\-0.53\\-0.49\\-0.45\\-0.41\\-0.36\\-0.31\\-0.26\\-0.2\\-0.14\\-0.01\\0.07\\0.18\\0.32\\0.37\\0.42\\0.58\\0.67\\};
\addplot[spkB] table[x=t,y expr=9,row sep=\\]{t\\-1.98\\-1.94\\-1.87\\-1.72\\-1.6\\-1.55\\-1.47\\-1.39\\-1.28\\-1.13\\-1.03\\-1.0\\-0.97\\-0.94\\-0.79\\-0.75\\-0.71\\-0.67\\-0.63\\-0.59\\-0.55\\-0.51\\-0.47\\-0.43\\-0.39\\-0.3\\-0.26\\-0.22\\-0.18\\-0.13\\-0.09\\0.07\\0.12\\0.17\\0.22\\0.27\\0.33\\0.39\\0.44\\0.63\\0.78\\};
\addplot[spkB] table[x=t,y expr=8,row sep=\\]{t\\-1.98\\-1.88\\-1.83\\-1.78\\-1.75\\-1.72\\-1.69\\-1.65\\-1.6\\-1.56\\-1.49\\-1.38\\-1.29\\-1.13\\-1.03\\-0.96\\-0.86\\-0.82\\-0.79\\-0.76\\-0.73\\-0.7\\-0.66\\-0.62\\-0.58\\-0.54\\-0.5\\-0.46\\-0.42\\-0.38\\-0.34\\-0.3\\-0.26\\-0.22\\-0.18\\-0.14\\-0.1\\-0.06\\-0.02\\0.02\\0.07\\0.12\\0.17\\0.22\\0.27\\0.33\\0.39\\0.45\\0.51\\0.56\\0.7\\0.81\\0.95\\};
\addplot[spkB] table[x=t,y expr=7,row sep=\\]{t\\-1.92\\-1.84\\-1.72\\-1.63\\-1.56\\-1.45\\-1.35\\-1.31\\-1.27\\-1.23\\-1.19\\-1.15\\-1.11\\-1.05\\-1.0\\-0.95\\-0.9\\-0.85\\-0.81\\-0.77\\-0.7\\-0.61\\-0.47\\-0.43\\-0.39\\-0.35\\-0.31\\-0.27\\-0.23\\-0.19\\-0.14\\-0.05\\0.12\\0.21\\0.28\\0.95\\};
\addplot[spkB] table[x=t,y expr=6,row sep=\\]{t\\-1.99\\-1.89\\-1.79\\-1.61\\-1.52\\-1.28\\-1.17\\-1.05\\-0.98\\-0.89\\-0.85\\-0.81\\-0.77\\-0.73\\-0.69\\-0.65\\-0.61\\-0.57\\-0.51\\-0.47\\-0.43\\-0.39\\-0.35\\-0.28\\-0.23\\-0.18\\-0.13\\-0.09\\-0.05\\-0.01\\0.04\\0.09\\0.14\\0.19\\0.24\\0.28\\0.33\\0.38\\0.43\\0.49\\0.54\\0.67\\0.79\\0.91\\};
\addplot[spkB] table[x=t,y expr=5,row sep=\\]{t\\-1.99\\-1.92\\-1.86\\-1.82\\-1.77\\-1.73\\-1.63\\-1.59\\-1.55\\-1.51\\-1.47\\-1.43\\-1.39\\-1.35\\-1.31\\-1.27\\-1.23\\-1.19\\-1.15\\-1.11\\-1.07\\-1.03\\-0.98\\-0.93\\-0.88\\-0.83\\-0.79\\-0.65\\-0.54\\-0.47\\-0.37\\-0.33\\-0.28\\-0.24\\-0.2\\-0.16\\-0.07\\-0.02\\0.04\\0.1\\0.15\\0.32\\0.44\\0.6\\0.77\\0.95\\};
\addplot[spkB] table[x=t,y expr=4,row sep=\\]{t\\-1.97\\-1.91\\-1.85\\-1.79\\-1.73\\-1.67\\-1.61\\-1.55\\-1.49\\-1.43\\-1.37\\-1.31\\-1.25\\-1.19\\-1.12\\-1.06\\-0.99\\-0.94\\-0.89\\-0.84\\-0.72\\-0.65\\-0.61\\-0.57\\-0.53\\-0.49\\-0.45\\-0.42\\-0.39\\-0.36\\-0.33\\-0.3\\-0.26\\-0.22\\-0.18\\-0.14\\-0.1\\-0.07\\-0.04\\-0.01\\0.02\\0.05\\0.14\\0.19\\0.24\\0.29\\0.34\\0.39\\0.44\\0.49\\0.54\\0.59\\0.64\\0.69\\0.74\\0.79\\0.84\\0.89\\0.94\\0.98\\};
\addplot[spkB] table[x=t,y expr=3,row sep=\\]{t\\-1.96\\-1.9\\-1.84\\-1.78\\-1.72\\-1.66\\-1.6\\-1.54\\-1.48\\-1.42\\-1.36\\-1.3\\-1.24\\-1.18\\-1.12\\-1.06\\-1.04\\-1.0\\-0.97\\-0.94\\-0.91\\-0.88\\-0.84\\-0.8\\-0.76\\-0.72\\-0.68\\-0.64\\-0.6\\-0.56\\-0.52\\-0.48\\-0.44\\-0.4\\-0.3\\-0.26\\-0.21\\-0.16\\-0.11\\-0.06\\-0.01\\0.09\\0.14\\0.19\\0.24\\0.3\\0.36\\0.42\\0.48\\0.54\\0.6\\0.67\\0.74\\0.81\\0.88\\0.95\\};
\addplot[spkB] table[x=t,y expr=2,row sep=\\]{t\\-1.99\\-1.96\\-1.93\\-1.9\\-1.87\\-1.84\\-1.8\\-1.76\\-1.67\\-1.62\\-1.59\\-1.42\\-1.38\\-1.26\\-1.19\\-1.0\\-0.92\\-0.75\\-0.62\\-0.54\\-0.47\\-0.4\\-0.37\\-0.34\\-0.31\\-0.28\\-0.25\\-0.22\\-0.19\\-0.16\\-0.13\\-0.1\\-0.07\\-0.04\\-0.01\\0.03\\0.08\\0.28\\0.37\\0.42\\0.47\\0.6\\0.64\\0.69\\0.79\\0.88\\0.95\\};
\addplot[spkB] table[x=t,y expr=1,row sep=\\]{t\\-1.99\\-1.96\\-1.93\\-1.9\\-1.87\\-1.84\\-1.8\\-1.76\\-1.72\\-1.68\\-1.64\\-1.6\\-1.56\\-1.52\\-1.48\\-1.44\\-1.4\\-1.36\\-1.32\\-1.28\\-1.24\\-1.2\\-1.16\\-1.12\\-1.08\\-1.04\\-0.93\\-0.84\\-0.75\\-0.7\\-0.61\\-0.57\\-0.53\\-0.49\\-0.45\\-0.41\\-0.37\\-0.33\\-0.29\\-0.25\\-0.21\\-0.17\\-0.13\\-0.09\\-0.05\\-0.01\\0.03\\0.07\\0.16\\0.32\\0.46\\0.67\\0.79\\0.93\\};
\end{axis}

% ---------------- B1 naive
\begin{axis}[dec, at={(76.25pt,-343pt)}, yticklabels={0.4,0.6,0.8,1.0}]
\addplot[zline] coordinates {(-2,0.5) (1,0.5)};
\addplot[bandG] coordinates {(-1.93,0.547)(-1.779,0.58)(-1.628,0.572)(-1.477,0.559)(-1.326,0.502)(-1.175,0.57)(-1.024,0.687)(-0.873,0.936)(-0.722,0.932)(-0.571,0.851)(-0.42,0.887)(-0.269,0.918)(-0.118,0.924)(0.033,0.938)(0.184,0.949)(0.335,0.966)(0.486,0.961)(0.637,0.949)
 (0.637,0.899)(0.486,0.911)(0.335,0.916)(0.184,0.899)(0.033,0.888)(-0.118,0.864)(-0.269,0.858)(-0.42,0.827)(-0.571,0.791)(-0.722,0.872)(-0.873,0.856)(-1.024,0.607)(-1.175,0.47)(-1.326,0.402)(-1.477,0.459)(-1.628,0.452)(-1.779,0.46)(-1.93,0.447)} -- cycle;
\addplot[bandM] coordinates {(-1.93,0.597)(-1.779,0.643)(-1.628,0.539)(-1.477,0.566)(-1.326,0.544)(-1.175,0.585)(-1.024,0.785)(-0.873,0.903)(-0.722,0.922)(-0.571,0.948)(-0.42,0.974)(-0.269,0.984)(-0.118,0.997)(0.033,0.998)(0.184,1.003)(0.335,1.003)(0.486,0.999)(0.637,0.987)
 (0.637,0.947)(0.486,0.969)(0.335,0.973)(0.184,0.983)(0.033,0.978)(-0.118,0.967)(-0.269,0.954)(-0.42,0.934)(-0.571,0.908)(-0.722,0.882)(-0.873,0.863)(-1.024,0.705)(-1.175,0.485)(-1.326,0.444)(-1.477,0.466)(-1.628,0.419)(-1.779,0.523)(-1.93,0.457)} -- cycle;
\addplot[cgreen, ln] table[x=x, y=st]{\tBa};
\addplot[cmag, ln] table[x=x, y=ch]{\tBa};
\end{axis}

% ---------------- B2 balanced
\begin{axis}[dec, at={(226.75pt,-343pt)}, yticklabels={}]
\addplot[zline] coordinates {(-2,0.5) (1,0.5)};
\addplot[bandG] coordinates {(-1.93,0.502)(-1.779,0.581)(-1.628,0.592)(-1.477,0.592)(-1.326,0.526)(-1.175,0.545)(-1.024,0.624)(-0.873,0.80)(-0.722,0.786)(-0.571,0.698)(-0.42,0.732)(-0.269,0.751)(-0.118,0.726)(0.033,0.781)(0.184,0.74)(0.335,0.736)(0.486,0.792)(0.637,0.786)
 (0.637,0.696)(0.486,0.712)(0.335,0.656)(0.184,0.66)(0.033,0.701)(-0.118,0.656)(-0.269,0.671)(-0.42,0.652)(-0.571,0.618)(-0.722,0.706)(-0.873,0.72)(-1.024,0.544)(-1.175,0.465)(-1.326,0.426)(-1.477,0.492)(-1.628,0.492)(-1.779,0.481)(-1.93,0.402)} -- cycle;
\addplot[bandM] coordinates {(-1.93,0.546)(-1.779,0.651)(-1.628,0.532)(-1.477,0.607)(-1.326,0.501)(-1.175,0.561)(-1.024,0.753)(-0.873,0.716)(-0.722,0.765)(-0.571,0.913)(-0.42,0.932)(-0.269,0.948)(-0.118,0.958)(0.033,0.97)(0.184,0.97)(0.335,0.957)(0.486,0.952)(0.637,0.933)
 (0.637,0.903)(0.486,0.932)(0.335,0.937)(0.184,0.95)(0.033,0.95)(-0.118,0.938)(-0.269,0.918)(-0.42,0.902)(-0.571,0.883)(-0.722,0.725)(-0.873,0.656)(-1.024,0.653)(-1.175,0.481)(-1.326,0.421)(-1.477,0.507)(-1.628,0.432)(-1.779,0.551)(-1.93,0.466)} -- cycle;
\addplot[cgreen, ln] table[x=x, y=st]{\tBb};
\addplot[cmag, ln] table[x=x, y=ch]{\tBb};
\end{axis}

% ---------------- B3 sampling whisks removed
\begin{axis}[dec, at={(376.75pt,-343pt)}, yticklabels={}]
\addplot[zline] coordinates {(-2,0.5) (1,0.5)};
\addplot[bandG] coordinates {(-1.93,0.504)(-1.779,0.587)(-1.628,0.602)(-1.477,0.591)(-1.326,0.532)(-1.175,0.559)(-1.024,0.579)(-0.873,0.601)(-0.722,0.621)(-0.571,0.565)(-0.42,0.637)(-0.269,0.583)(-0.118,0.615)(0.033,0.686)(0.184,0.601)(0.335,0.706)(0.486,0.701)(0.637,0.652)
 (0.637,0.552)(0.486,0.601)(0.335,0.586)(0.184,0.481)(0.033,0.566)(-0.118,0.515)(-0.269,0.483)(-0.42,0.537)(-0.571,0.445)(-0.722,0.541)(-0.873,0.521)(-1.024,0.499)(-1.175,0.459)(-1.326,0.432)(-1.477,0.471)(-1.628,0.482)(-1.779,0.467)(-1.93,0.404)} -- cycle;
\addplot[bandM] coordinates {(-1.93,0.562)(-1.779,0.636)(-1.628,0.529)(-1.477,0.63)(-1.326,0.521)(-1.175,0.585)(-1.024,0.694)(-0.873,0.611)(-0.722,0.621)(-0.571,0.765)(-0.42,0.828)(-0.269,0.78)(-0.118,0.81)(0.033,0.828)(0.184,0.798)(0.335,0.80)(0.486,0.826)(0.637,0.852)
 (0.637,0.772)(0.486,0.746)(0.335,0.72)(0.184,0.718)(0.033,0.748)(-0.118,0.71)(-0.269,0.68)(-0.42,0.728)(-0.571,0.665)(-0.722,0.541)(-0.873,0.511)(-1.024,0.574)(-1.175,0.485)(-1.326,0.421)(-1.477,0.53)(-1.628,0.429)(-1.779,0.536)(-1.93,0.462)} -- cycle;
\addplot[cgreen, ln] table[x=x, y=st]{\tBc};
\addplot[cmag, ln] table[x=x, y=ch]{\tBc};
\end{axis}

% ---------------- text annotations (coordinates in reference pixels)
\begin{scope}[x=0.25pt, y=-0.25pt, every node/.style={font=\fs, inner sep=0pt}]
\node[anchor=base west, font=\fontsize{21pt}{22pt}\selectfont\bfseries] at (6,70) {A};
\node[anchor=base west, font=\fontsize{21pt}{22pt}\selectfont\bfseries] at (6,876) {B};
\node[anchor=base east, font=\fontsize{13pt}{14pt}\selectfont] at (697,74) {correct};
\draw[line width=1.25pt] (718,55) -- (833,55);
\node[anchor=base east, font=\fontsize{13pt}{14pt}\selectfont] at (672,138) {error};
\draw[line width=1.25pt, dash pattern=on 4.5pt off 3.5pt] (718,128) -- (833,128);
\node[anchor=base, text=cred] at (1113,106) {report convex};
\node[anchor=base, text=cblue] at (1714,106) {report concave};
\node[anchor=base, rotate=90] at (169,311) {firing rate (Hz)};
\node[anchor=base, rotate=90] at (163,1183) {decoding accuracy};
\node[anchor=base] at (512,652) {time in trial (s)};
\node[anchor=base] at (1113,652) {time in trial (s)};
\node[anchor=base] at (1714,652) {time in trial (s)};
\node[anchor=base] at (519,1522) {time in trial (s)};
\node[anchor=base] at (1120,1522) {time in trial (s)};
\node[anchor=base] at (1721,1522) {time in trial (s)};
\node[anchor=base] at (519,860) {naive};
\node[anchor=base] at (519,925) {decoding};
\node[anchor=base] at (1120,860) {balanced};
\node[anchor=base] at (1120,925) {decoding};
\node[anchor=base] at (1721,860) {sampling whisks};
\node[anchor=base] at (1721,925) {removed};
\node[anchor=base, text=cmag] at (725,1168) {choice};
\node[anchor=base, text=cgreen] at (725,1237) {stimulus};
\end{scope}
\end{tikzpicture}
\end{document}
